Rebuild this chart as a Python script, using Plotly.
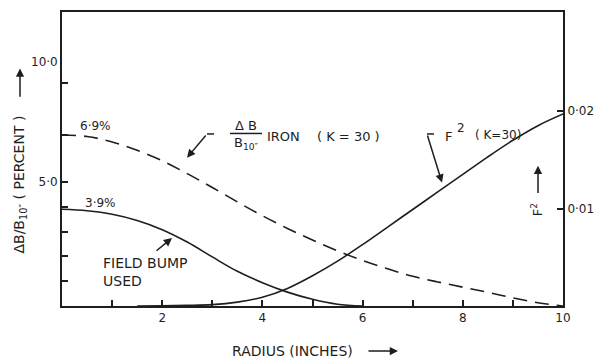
import plotly.graph_objects as go

# ---- data ----
radius_iron = [0, 0.5, 1, 1.5, 2, 2.5, 3, 3.5, 4, 4.5, 5, 5.5, 6, 6.5, 7, 7.5, 8, 8.5, 9, 9.5, 10]
iron_pct = [6.9, 6.84, 6.62, 6.28, 5.86, 5.34, 4.78, 4.2, 3.64, 3.13, 2.66, 2.22, 1.84, 1.5, 1.2, 0.97, 0.76, 0.55, 0.33, 0.13, 0.0]

radius_bump = [0, 0.5, 1, 1.5, 2, 2.5, 3, 3.5, 4, 4.5, 5, 5.5, 6]
bump_pct = [3.9, 3.84, 3.7, 3.45, 3.08, 2.58, 1.98, 1.4, 0.94, 0.56, 0.27, 0.07, 0.0]

radius_f2 = [1.5, 2, 2.5, 3, 3.5, 4, 4.5, 5, 5.5, 6, 6.5, 7, 7.5, 8, 8.5, 9, 9.5, 10]
f2_vals = [0.0, 0.00002, 0.00006, 0.00014, 0.0004, 0.0009, 0.0018, 0.0031, 0.0046, 0.0063, 0.0081,
           0.0099, 0.0117, 0.0135, 0.0153, 0.0170, 0.0185, 0.0197]

x_tickvals = [1, 2, 3, 4, 5, 6, 7, 8, 9, 10]
x_ticktext = ["", "2", "", "4", "", "6", "", "8", "", "10"]
y_tickvals = [1, 2, 3, 4, 5, 6.9, 9]
y_ticktext = ["", "", "", "", "5·0", "", ""]
y2_tickvals = [0.01, 0.02]
y2_ticktext = ["0·01", "0·02"]

INK = "#1e1e1e"
FONT = "DejaVu Sans"

W, H = 606, 359
L, R, T, B = 62, 563, 10, 306.5


def px(xp):
    return (xp - L) / (R - L)


def py(yp):
    return (B - yp) / (B - T)


fig = go.Figure()
fig.add_trace(go.Scatter(x=radius_iron, y=iron_pct, mode="lines", line_shape="spline",
                         line=dict(color=INK, width=1.6, dash="14px,8px"), hoverinfo="skip"))
fig.add_trace(go.Scatter(x=radius_bump, y=bump_pct, mode="lines", line_shape="spline",
                         line=dict(color=INK, width=1.6), hoverinfo="skip"))
fig.add_trace(go.Scatter(x=radius_f2, y=f2_vals, mode="lines", line_shape="spline", yaxis="y2",
                         line=dict(color=INK, width=1.6), hoverinfo="skip"))

fig.update_layout(
    width=W, height=H,
    margin=dict(l=L, r=W - R, t=T, b=H - B),
    paper_bgcolor="white", plot_bgcolor="white",
    showlegend=False,
    font=dict(family=FONT, color=INK, size=12),
    xaxis=dict(range=[0, 10], showgrid=False, zeroline=False, showline=True, linecolor=INK,
               linewidth=2, mirror=True, ticks="inside", ticklen=6, tickwidth=1.5, tickcolor=INK,
               tickvals=x_tickvals, ticktext=x_ticktext, tickfont=dict(size=12, family=FONT)),
    yaxis=dict(range=[0, (B - T) / 25.0], showgrid=False, zeroline=False, showline=True,
               linecolor=INK, linewidth=2, ticks="inside", ticklen=6, tickwidth=1.5,
               tickcolor=INK, tickvals=y_tickvals, ticktext=y_ticktext,
               tickfont=dict(size=12, family=FONT)),
    yaxis2=dict(range=[0, (B - T) / 9830.0], overlaying="y", side="right", showgrid=False,
                zeroline=False, showline=True, linecolor=INK, linewidth=2, ticks="inside",
                ticklen=6, tickwidth=1.5, tickcolor=INK, tickvals=y2_tickvals,
                ticktext=y2_ticktext, tickfont=dict(size=12, family=FONT)),
)

ann = []


def text(xp, yp, s, size=12, xanchor="center", angle=0):
    ann.append(dict(xref="x domain", yref="y domain", x=px(xp), y=py(yp), text=s,
                    showarrow=False, xanchor=xanchor, yanchor="middle", textangle=angle,
                    font=dict(size=size, family=FONT, color=INK)))


def arrow(x0, y0, x1, y1, head=2):
    ann.append(dict(xref="x domain", yref="y domain", x=px(x1), y=py(y1),
                    axref="x domain", ayref="y domain", ax=px(x0), ay=py(y0), text="",
                    showarrow=True, arrowhead=head, arrowsize=1.1, arrowwidth=1.5,
                    arrowcolor=INK, standoff=0, startstandoff=0))


# left axis extra label
text(44, 60, "10·0", 12)
# y title
text(20, 184, "ΔB/B<sub>10″</sub> ( PERCENT )", 14, angle=-90)
arrow(20, 97, 20, 67)
# x title
text(292, 352, "RADIUS (INCHES)", 14)
arrow(367, 352, 398, 352)
# right axis title
text(537, 210, "F<sup>2</sup>", 13, angle=-90)
arrow(538, 194, 538, 165)

# curve labels
text(95, 125, "6·9%", 12)
text(100, 203, "3·9%", 12)
text(101, 263, "FIELD BUMP", 14, xanchor="left")
text(101, 281, "USED", 14, xanchor="left")
arrow(155, 252, 172, 238)

# iron label (fraction)
text(246, 124, "Δ B", 13)
text(246, 143, "B<sub>10″</sub>", 13)
text(265, 136, "IRON", 13, xanchor="left")
text(315, 136, "( K = 30 )", 13, xanchor="left")
arrow(207, 133, 187, 157)

# F^2 label
text(443, 136, "F", 13, xanchor="left")
text(455, 127, "2", 12, xanchor="left")
text(473, 134, "( K=30)", 12, xanchor="left")
arrow(427, 133, 442, 182)

fig.update_layout(annotations=ann)

fig.add_shape(type="line", xref="paper", yref="paper", x0=px(230), x1=px(262), y0=py(132.5),
              y1=py(132.5), line=dict(color=INK, width=1.5))
fig.add_shape(type="line", xref="paper", yref="paper", x0=px(207), x1=px(214), y0=py(133),
              y1=py(133), line=dict(color=INK, width=1.5))
fig.add_shape(type="line", xref="paper", yref="paper", x0=px(427), x1=px(434), y0=py(133),
              y1=py(133), line=dict(color=INK, width=1.5))

fig.write_html("out.html", config={"displayModeBar": False},
               post_script="document.body.style.margin='0';document.body.style.overflow='hidden';")
